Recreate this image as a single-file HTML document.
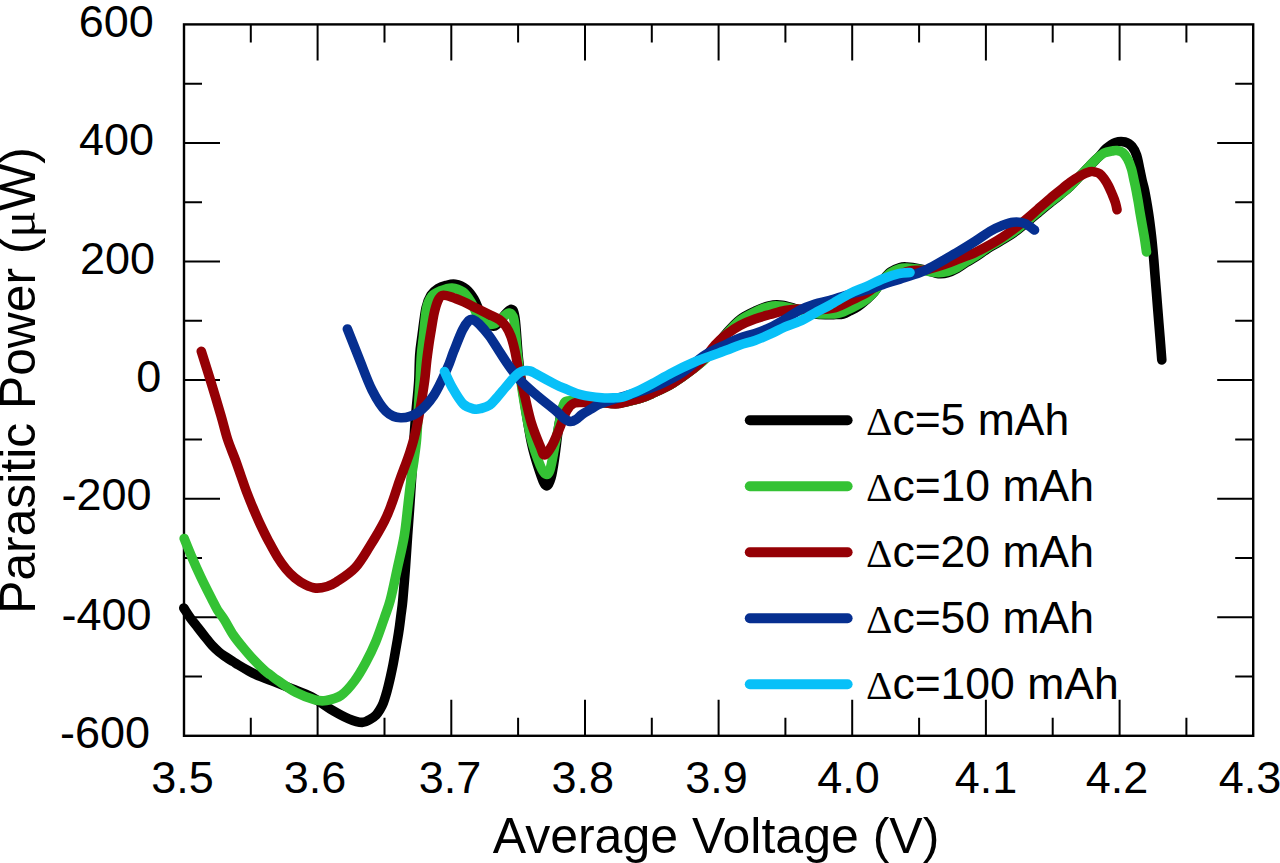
<!DOCTYPE html>
<html><head><meta charset="utf-8"><style>
html,body{margin:0;padding:0;background:#fff;overflow:hidden;}
svg{display:block;}
text{font-family:"Liberation Sans",sans-serif;fill:#000;}
.d{font-family:"Liberation Serif",serif;}
</style></head><body>
<svg width="1280" height="863" viewBox="0 0 1280 863">
<g font-size="45">
<text x="153.8" y="36.6" text-anchor="end">600</text>
<text x="154.1" y="155.3" text-anchor="end">400</text>
<text x="155.1" y="273.6" text-anchor="end">200</text>
<text x="161.3" y="391.8" text-anchor="end">0</text>
<text x="151.6" y="510.4" text-anchor="end">-200</text>
<text x="151.6" y="630.3" text-anchor="end">-400</text>
<text x="150.1" y="747.6" text-anchor="end">-600</text>
<text x="182.5" y="793.0" text-anchor="middle">3.5</text>
<text x="315.0" y="793.0" text-anchor="middle">3.6</text>
<text x="450.0" y="793.0" text-anchor="middle">3.7</text>
<text x="582.8" y="793.0" text-anchor="middle">3.8</text>
<text x="716.6" y="793.0" text-anchor="middle">3.9</text>
<text x="848.6" y="793.0" text-anchor="middle">4.0</text>
<text x="986.0" y="793.0" text-anchor="middle">4.1</text>
<text x="1117.0" y="793.0" text-anchor="middle">4.2</text>
<text x="1250.0" y="793.0" text-anchor="middle">4.3</text>
</g>
<text x="716" y="853" font-size="50" text-anchor="middle">Average Voltage (V)</text>
<text transform="translate(35,380.5) rotate(-90)" x="0" y="0" font-size="49.8" text-anchor="middle">Parasitic Power (<tspan class="d">μ</tspan>W)</text>
<path d="M250.8,735.8V717.8 M250.8,24.4V42.4 M317.6,735.8V699.8 M317.6,24.4V60.4 M384.5,735.8V717.8 M384.5,24.4V42.4 M451.3,735.8V699.8 M451.3,24.4V60.4 M518.1,735.8V717.8 M518.1,24.4V42.4 M585.0,735.8V699.8 M585.0,24.4V60.4 M651.8,735.8V717.8 M651.8,24.4V42.4 M718.6,735.8V699.8 M718.6,24.4V60.4 M785.4,735.8V717.8 M785.4,24.4V42.4 M852.2,735.8V699.8 M852.2,24.4V60.4 M919.1,735.8V717.8 M919.1,24.4V42.4 M985.9,735.8V699.8 M985.9,24.4V60.4 M1052.7,735.8V717.8 M1052.7,24.4V42.4 M1119.6,735.8V699.8 M1119.6,24.4V60.4 M1186.4,735.8V717.8 M1186.4,24.4V42.4 M184.0,676.5H202.0 M1253.2,676.5H1235.2 M184.0,617.2H220.0 M1253.2,617.2H1217.2 M184.0,557.9H202.0 M1253.2,557.9H1235.2 M184.0,498.7H220.0 M1253.2,498.7H1217.2 M184.0,439.4H202.0 M1253.2,439.4H1235.2 M184.0,380.1H220.0 M1253.2,380.1H1217.2 M184.0,320.8H202.0 M1253.2,320.8H1235.2 M184.0,261.5H220.0 M1253.2,261.5H1217.2 M184.0,202.2H202.0 M1253.2,202.2H1235.2 M184.0,143.0H220.0 M1253.2,143.0H1217.2 M184.0,83.7H202.0 M1253.2,83.7H1235.2" stroke="#000" stroke-width="2" fill="none"/>
<rect x="184.0" y="24.4" width="1069.2" height="711.4" fill="none" stroke="#000" stroke-width="2.4"/>
<path d="M183.8,608.0 C184.9,609.6 187.9,614.5 190.2,617.7 C192.5,621.0 195.4,624.4 197.8,627.5 C200.2,630.6 202.4,633.4 204.8,636.4 C207.2,639.4 209.6,642.7 212.0,645.3 C214.4,647.9 216.7,650.0 219.0,652.0 C221.3,654.0 223.7,655.4 226.0,657.0 C228.3,658.6 230.9,660.2 233.0,661.5 C235.1,662.8 236.0,663.5 238.5,665.0 C241.0,666.5 245.1,668.9 248.0,670.5 C250.9,672.1 251.7,672.6 256.0,674.5 C260.3,676.4 267.7,679.2 273.8,681.6 C279.9,684.0 286.2,686.5 292.5,689.0 C298.8,691.5 305.1,693.5 311.3,696.8 C317.6,700.1 323.8,705.1 330.0,708.8 C336.2,712.5 343.4,716.5 348.8,718.8 C354.2,721.1 358.6,722.3 362.2,722.4 C365.8,722.5 368.0,720.4 370.3,719.2 C372.6,718.0 374.4,716.7 376.0,715.1 C377.6,713.5 378.8,711.5 380.0,709.5 C381.2,707.5 382.4,705.3 383.3,703.0 C384.2,700.7 384.9,698.4 385.7,695.7 C386.5,693.0 387.3,690.0 388.1,686.8 C388.9,683.5 389.8,679.9 390.6,676.2 C391.4,672.6 392.2,668.9 393.0,664.9 C393.8,660.9 394.6,656.1 395.3,652.0 C396.0,647.9 396.7,644.0 397.4,640.0 C398.1,636.0 398.7,632.3 399.3,628.0 C399.9,623.7 400.5,618.7 401.1,614.0 C401.7,609.3 402.1,607.8 402.8,600.0 C403.5,592.2 404.7,577.7 405.5,567.0 C406.3,556.3 406.9,545.6 407.6,535.6 C408.3,525.6 409.1,516.3 409.7,507.0 C410.3,497.7 410.9,489.5 411.5,480.0 C412.1,470.5 412.7,460.0 413.3,450.0 C413.9,440.0 414.7,428.2 415.3,420.0 C415.9,411.8 416.4,407.7 417.0,401.0 C417.6,394.3 418.4,387.7 418.8,380.0 C419.2,372.3 419.2,362.3 419.7,355.0 C420.2,347.7 420.9,343.8 422.0,336.0 C423.1,328.2 424.5,314.8 426.0,308.0 C427.5,301.2 429.0,298.2 431.0,295.0 C433.0,291.8 435.5,290.1 438.0,288.5 C440.5,286.9 443.2,286.2 446.0,285.5 C448.8,284.8 451.7,283.6 455.0,284.2 C458.3,284.8 462.8,286.5 466.0,289.0 C469.2,291.5 471.7,295.2 474.0,299.0 C476.3,302.8 477.8,308.1 480.0,312.0 C482.2,315.9 484.5,320.2 487.0,322.5 C489.5,324.8 492.3,326.9 495.0,326.0 C497.7,325.1 500.4,319.8 503.0,317.0 C505.6,314.2 508.9,309.2 510.9,309.4 C512.9,309.6 513.7,309.7 515.0,318.0 C516.3,326.3 517.1,346.2 518.5,359.0 C519.9,371.8 521.3,381.0 523.5,395.0 C525.7,409.0 528.8,430.3 531.5,443.1 C534.2,455.9 537.4,464.9 539.8,472.0 C542.2,479.1 544.1,484.5 546.0,485.5 C547.9,486.5 549.5,483.1 551.0,478.0 C552.5,472.9 553.7,463.8 555.0,455.0 C556.3,446.2 557.5,433.3 559.0,425.0 C560.5,416.7 561.5,409.0 564.0,405.0 C566.5,401.0 570.3,401.6 574.0,401.0 C577.7,400.4 581.4,401.2 586.0,401.5 C590.6,401.8 596.8,402.2 601.7,402.5 C606.6,402.8 611.0,403.7 615.6,403.5 C620.2,403.3 625.4,402.0 629.5,401.1 C633.6,400.2 636.3,399.6 640.0,398.4 C643.7,397.2 646.3,396.3 651.7,393.8 C657.1,391.3 665.7,387.6 672.6,383.4 C679.5,379.2 687.4,373.5 693.4,368.8 C699.4,364.1 702.9,361.1 708.5,355.0 C714.1,348.9 721.8,338.4 727.0,332.5 C732.2,326.6 735.3,323.1 740.0,319.5 C744.7,315.9 750.0,313.5 755.0,311.2 C760.0,308.9 765.5,306.6 770.0,305.6 C774.5,304.6 778.2,304.8 782.2,305.2 C786.2,305.6 790.9,307.4 794.3,308.3 C797.7,309.2 798.9,309.8 802.4,310.7 C805.9,311.6 810.9,313.3 815.0,314.0 C819.1,314.7 823.3,314.7 826.8,314.8 C830.3,314.9 833.3,314.6 836.0,314.5 C838.7,314.4 840.7,314.6 843.0,314.0 C845.3,313.4 847.5,312.1 850.0,310.8 C852.5,309.6 855.4,308.3 858.1,306.5 C860.8,304.7 863.5,302.3 866.2,299.9 C868.9,297.4 871.7,294.9 874.3,291.8 C876.9,288.7 879.3,284.3 882.0,281.0 C884.7,277.7 887.6,274.1 890.6,271.8 C893.6,269.6 897.3,268.3 900.0,267.5 C902.7,266.7 903.6,266.8 906.8,267.0 C909.9,267.2 915.1,267.9 918.9,268.6 C922.6,269.3 926.0,270.2 929.3,271.0 C932.6,271.8 935.4,273.3 938.5,273.6 C941.6,273.9 944.7,273.6 947.8,272.7 C950.9,271.8 954.0,270.2 957.1,268.5 C960.2,266.8 963.2,264.4 966.3,262.5 C969.4,260.6 972.0,259.3 975.6,257.0 C979.2,254.7 983.9,251.1 988.0,248.5 C992.1,245.9 995.2,244.5 1000.0,241.5 C1004.8,238.5 1010.5,235.4 1017.0,230.5 C1023.5,225.6 1033.5,216.6 1039.0,212.0 C1044.5,207.4 1046.5,205.8 1050.0,203.0 C1053.5,200.2 1056.7,197.8 1060.0,195.0 C1063.3,192.2 1066.7,189.7 1070.0,186.5 C1073.3,183.3 1076.7,179.5 1080.0,176.0 C1083.3,172.5 1086.8,168.8 1090.0,165.5 C1093.2,162.2 1096.8,158.8 1099.5,156.0 C1102.2,153.2 1103.6,150.8 1106.3,148.5 C1109.0,146.2 1112.5,143.6 1115.6,142.5 C1118.7,141.4 1122.2,141.3 1124.9,142.0 C1127.6,142.7 1130.1,144.3 1132.0,146.5 C1133.9,148.7 1135.2,151.4 1136.5,155.0 C1137.8,158.6 1138.6,163.8 1139.5,168.0 C1140.4,172.2 1141.2,176.3 1142.0,180.0 C1142.8,183.7 1143.4,184.5 1144.5,190.0 C1145.6,195.5 1147.3,205.3 1148.5,213.0 C1149.7,220.7 1150.6,228.2 1151.5,236.0 C1152.4,243.8 1153.1,251.8 1153.8,260.0 C1154.5,268.2 1155.1,276.7 1155.8,285.0 C1156.5,293.3 1157.1,301.3 1157.8,310.0 C1158.5,318.7 1159.3,328.7 1160.0,337.0 C1160.7,345.3 1161.5,356.2 1161.8,360.0" fill="none" stroke="#000000" stroke-width="9.6" stroke-linecap="round" stroke-linejoin="round"/>
<path d="M184.2,538.5 C185.4,541.5 188.7,549.8 191.5,556.3 C194.3,562.8 197.6,570.2 200.9,577.2 C204.2,584.2 208.5,592.6 211.3,598.1 C214.1,603.6 215.3,606.4 217.5,610.0 C219.7,613.6 221.9,615.8 224.5,620.0 C227.1,624.2 230.3,630.5 233.3,635.0 C236.3,639.5 239.3,643.0 242.6,647.0 C245.9,651.0 249.4,655.2 253.0,659.0 C256.6,662.8 261.1,667.3 264.0,670.0 C266.9,672.7 268.2,673.3 270.5,675.0 C272.8,676.7 273.2,677.4 277.5,680.3 C281.8,683.2 290.0,689.3 296.2,692.6 C302.5,695.9 310.0,698.6 315.0,699.9 C320.0,701.2 321.9,701.3 326.2,700.5 C330.6,699.7 336.5,698.5 341.2,695.2 C346.0,692.0 350.4,686.5 354.5,681.0 C358.6,675.5 362.3,669.0 365.8,662.5 C369.3,656.0 372.6,649.4 375.7,641.9 C378.8,634.4 382.1,624.5 384.5,617.5 C386.9,610.5 388.2,607.9 390.3,600.0 C392.4,592.1 394.7,580.7 397.0,570.0 C399.3,559.3 402.5,546.4 404.3,535.6 C406.1,524.8 406.9,514.3 408.0,505.0 C409.1,495.7 410.0,487.5 411.0,480.0 C412.0,472.5 413.1,466.7 414.0,460.0 C414.9,453.3 415.9,446.7 416.5,440.0 C417.1,433.3 417.4,426.5 417.8,420.0 C418.2,413.5 418.4,407.7 418.8,401.0 C419.2,394.3 419.8,387.7 420.2,380.0 C420.6,372.3 420.8,362.3 421.4,355.0 C421.9,347.7 422.6,343.8 423.5,336.0 C424.4,328.2 425.3,314.7 426.7,308.0 C428.1,301.3 429.8,298.8 432.0,296.0 C434.2,293.2 436.7,292.3 440.0,291.0 C443.3,289.7 448.2,287.8 452.0,288.0 C455.8,288.2 459.8,289.7 463.0,292.0 C466.2,294.3 468.7,298.3 471.0,302.0 C473.3,305.7 474.7,310.5 477.0,314.0 C479.3,317.5 482.2,321.3 485.0,323.0 C487.8,324.7 491.2,324.8 494.0,324.0 C496.8,323.2 499.5,319.8 502.0,318.0 C504.5,316.2 507.0,312.7 509.0,313.0 C511.0,313.3 512.6,313.0 514.0,320.0 C515.4,327.0 516.0,342.5 517.5,355.0 C519.0,367.5 520.8,381.2 523.0,395.0 C525.2,408.8 528.2,426.3 531.0,438.0 C533.8,449.7 537.6,459.0 540.0,465.0 C542.4,471.0 543.7,473.2 545.4,474.0 C547.1,474.8 548.3,475.1 550.0,469.8 C551.7,464.5 553.7,451.3 555.6,442.0 C557.5,432.7 559.6,420.9 561.2,414.2 C562.8,407.5 562.9,404.2 565.0,402.0 C567.1,399.8 570.5,401.1 574.0,401.0 C577.5,400.9 581.4,401.2 586.0,401.5 C590.6,401.8 596.8,402.2 601.7,402.5 C606.6,402.8 611.0,403.7 615.6,403.5 C620.2,403.3 625.4,402.0 629.5,401.1 C633.6,400.2 636.3,399.6 640.0,398.4 C643.7,397.2 646.3,396.3 651.7,393.8 C657.1,391.3 665.7,387.6 672.6,383.4 C679.5,379.2 687.4,373.4 693.4,368.8 C699.4,364.2 702.9,361.9 708.5,356.0 C714.1,350.1 721.8,339.4 727.0,333.5 C732.2,327.6 735.3,324.1 740.0,320.5 C744.7,316.9 750.0,314.4 755.0,312.0 C760.0,309.6 765.5,307.4 770.0,306.4 C774.5,305.4 778.2,305.8 782.2,306.2 C786.2,306.6 790.9,308.2 794.3,309.0 C797.7,309.8 798.9,310.2 802.4,311.0 C805.9,311.8 810.9,313.0 815.0,313.5 C819.1,314.0 823.3,314.0 826.8,314.0 C830.3,314.0 833.3,314.0 836.0,313.7 C838.7,313.4 840.7,312.8 843.0,312.0 C845.3,311.2 847.5,309.9 850.0,308.7 C852.5,307.4 855.4,306.0 858.1,304.5 C860.8,303.0 863.5,301.6 866.2,299.5 C868.9,297.4 871.7,294.8 874.3,291.8 C876.9,288.8 879.3,284.7 882.0,281.5 C884.7,278.3 887.6,275.0 890.6,272.8 C893.6,270.6 897.3,269.3 900.0,268.5 C902.7,267.7 903.6,267.9 906.8,268.0 C909.9,268.1 915.1,268.7 918.9,269.3 C922.6,269.9 926.0,270.9 929.3,271.5 C932.6,272.1 935.4,272.8 938.5,272.8 C941.6,272.8 944.7,272.4 947.8,271.5 C950.9,270.6 954.0,269.2 957.1,267.5 C960.2,265.8 963.2,263.4 966.3,261.5 C969.4,259.6 972.0,258.3 975.6,256.0 C979.2,253.7 983.9,250.1 988.0,247.5 C992.1,244.9 995.2,243.5 1000.0,240.5 C1004.8,237.5 1010.5,234.4 1017.0,229.5 C1023.5,224.6 1033.5,215.6 1039.0,211.0 C1044.5,206.4 1046.5,204.9 1050.0,202.2 C1053.5,199.4 1056.7,197.1 1060.0,194.5 C1063.3,191.9 1066.7,189.7 1070.0,186.6 C1073.3,183.5 1076.7,179.5 1080.0,176.0 C1083.3,172.5 1087.2,168.4 1090.0,165.5 C1092.8,162.6 1094.7,160.6 1097.0,158.5 C1099.3,156.4 1101.6,154.2 1104.1,153.0 C1106.6,151.8 1109.8,151.4 1112.0,151.0 C1114.2,150.6 1115.2,150.2 1117.0,150.5 C1118.8,150.8 1121.2,151.3 1123.0,152.8 C1124.8,154.3 1126.3,156.7 1127.7,159.3 C1129.1,161.9 1130.3,165.1 1131.4,168.6 C1132.5,172.1 1133.3,177.0 1134.1,180.6 C1134.9,184.2 1135.4,186.4 1136.1,190.0 C1136.8,193.6 1137.6,198.1 1138.3,202.0 C1139.0,205.9 1139.1,207.5 1140.1,213.2 C1141.1,218.9 1143.1,229.9 1144.2,236.4 C1145.3,242.9 1146.1,249.4 1146.5,252.0" fill="none" stroke="#34c234" stroke-width="9.6" stroke-linecap="round" stroke-linejoin="round"/>
<path d="M201.3,351.3 C202.8,356.1 207.0,369.3 210.3,380.0 C213.6,390.7 218.0,405.4 220.9,415.3 C223.8,425.2 225.2,431.9 227.6,439.4 C230.0,446.8 233.2,453.9 235.4,460.0 C237.6,466.1 239.1,470.6 241.0,476.0 C242.9,481.4 244.7,486.9 246.8,492.4 C248.9,497.9 251.2,503.6 253.5,509.0 C255.8,514.4 258.0,519.6 260.5,524.9 C263.0,530.2 265.6,535.6 268.5,541.0 C271.4,546.4 274.7,552.6 277.6,557.3 C280.5,562.0 283.1,565.5 286.0,569.0 C288.9,572.5 291.8,575.4 295.0,578.0 C298.2,580.6 301.6,582.8 305.0,584.5 C308.4,586.2 312.0,587.8 315.7,588.1 C319.4,588.4 323.6,587.5 327.0,586.5 C330.4,585.5 331.7,585.1 336.4,582.0 C341.1,578.9 349.6,573.8 355.2,567.8 C360.8,561.8 365.1,553.8 370.0,546.0 C374.9,538.2 380.8,528.2 384.5,521.0 C388.2,513.8 389.5,509.7 392.0,503.0 C394.5,496.3 397.2,487.2 399.4,481.0 C401.6,474.8 403.2,470.8 405.0,466.0 C406.8,461.2 408.5,456.7 410.0,452.0 C411.5,447.3 412.8,443.2 414.1,438.0 C415.4,432.8 416.8,427.2 418.0,421.0 C419.2,414.8 420.4,407.8 421.5,401.0 C422.6,394.2 423.8,386.8 424.7,380.0 C425.6,373.2 426.1,365.8 426.8,360.0 C427.5,354.2 428.1,350.0 428.8,345.0 C429.5,340.0 430.3,335.3 431.2,330.0 C432.1,324.7 433.1,317.8 434.2,313.0 C435.3,308.2 436.5,303.9 437.8,301.0 C439.1,298.1 439.9,296.2 442.1,295.5 C444.3,294.8 447.4,295.7 451.0,296.8 C454.6,297.9 459.6,300.0 463.8,301.9 C468.1,303.8 472.2,306.2 476.5,308.3 C480.8,310.4 485.5,312.7 489.3,314.6 C493.1,316.5 496.8,317.8 499.5,319.7 C502.2,321.6 503.9,323.3 505.8,326.1 C507.7,328.9 509.4,332.3 510.9,336.3 C512.4,340.3 513.6,345.2 514.8,350.3 C516.0,355.4 516.4,359.6 518.0,367.0 C519.6,374.4 522.2,385.6 524.5,395.0 C526.8,404.4 528.9,415.1 531.5,423.5 C534.1,431.9 537.7,440.4 539.9,445.7 C542.1,450.9 542.5,455.0 544.5,455.0 C546.5,455.0 549.4,450.0 551.9,445.7 C554.4,441.4 556.8,434.9 559.3,429.0 C561.8,423.1 564.3,414.8 566.8,410.5 C569.3,406.2 571.0,404.4 574.2,403.1 C577.4,401.8 581.4,402.6 586.0,402.5 C590.6,402.4 596.8,402.3 601.7,402.5 C606.6,402.7 611.0,404.1 615.6,403.9 C620.2,403.7 625.4,402.0 629.5,401.1 C633.6,400.2 636.3,399.6 640.0,398.4 C643.7,397.2 646.3,396.3 651.7,393.8 C657.1,391.3 665.7,387.6 672.6,383.4 C679.5,379.2 688.2,372.8 693.4,368.8 C698.6,364.8 700.2,363.4 703.8,359.4 C707.4,355.4 711.1,349.2 715.0,345.0 C718.9,340.8 722.8,337.2 727.0,334.0 C731.2,330.8 735.3,328.0 740.0,325.5 C744.7,323.0 750.0,320.8 755.0,319.0 C760.0,317.2 765.0,315.9 770.0,314.5 C775.0,313.1 780.2,311.4 785.0,310.5 C789.8,309.6 793.1,309.1 798.5,309.0 C803.9,308.9 810.9,309.9 817.1,309.7 C823.3,309.4 830.1,308.9 835.6,307.5 C841.1,306.1 844.9,303.4 850.0,301.0 C855.1,298.6 862.2,295.2 866.2,293.0 C870.2,290.8 870.1,290.2 874.3,287.7 C878.5,285.2 885.3,281.0 891.2,278.2 C897.1,275.4 904.1,272.2 909.7,270.8 C915.3,269.4 919.1,271.1 925.0,270.0 C930.9,268.9 939.2,266.1 945.0,264.2 C950.8,262.3 955.0,260.3 960.0,258.4 C965.0,256.5 970.0,254.9 975.0,252.6 C980.0,250.3 985.5,247.3 990.0,244.8 C994.5,242.3 998.0,240.1 1002.0,237.5 C1006.0,234.9 1010.0,232.0 1014.0,229.0 C1018.0,226.0 1022.0,222.8 1026.0,219.5 C1030.0,216.2 1034.0,212.5 1038.0,209.0 C1042.0,205.5 1046.3,201.7 1050.0,198.6 C1053.7,195.5 1056.7,193.2 1060.0,190.5 C1063.3,187.8 1066.7,184.9 1070.0,182.5 C1073.3,180.1 1076.6,177.8 1080.0,176.0 C1083.4,174.2 1087.7,172.4 1090.2,171.7 C1092.7,171.0 1093.5,171.7 1095.0,172.0 C1096.5,172.3 1098.0,172.5 1099.5,173.6 C1101.0,174.7 1102.5,176.4 1104.0,178.5 C1105.5,180.6 1107.1,183.2 1108.5,186.0 C1109.9,188.8 1111.3,192.2 1112.5,195.0 C1113.7,197.8 1114.8,200.6 1115.5,203.0 C1116.2,205.4 1116.8,208.6 1117.0,209.7" fill="none" stroke="#950005" stroke-width="9.6" stroke-linecap="round" stroke-linejoin="round"/>
<path d="M347.4,329.0 C349.4,334.0 355.2,348.8 359.3,359.0 C363.4,369.2 367.6,381.3 372.0,390.0 C376.4,398.7 381.1,406.6 385.9,411.2 C390.7,415.8 395.3,417.6 400.6,417.8 C405.9,418.0 412.3,416.3 417.9,412.5 C423.4,408.7 429.0,402.5 433.9,395.2 C438.8,387.9 443.9,375.9 447.2,368.6 C450.5,361.3 451.1,358.0 453.6,351.6 C456.2,345.2 459.9,335.2 462.5,330.0 C465.1,324.8 467.2,322.2 468.9,320.5 C470.6,318.8 471.0,318.9 472.7,319.5 C474.4,320.1 476.3,321.2 479.1,324.0 C481.9,326.8 485.9,331.4 489.3,336.0 C492.7,340.6 496.1,346.5 499.5,351.6 C502.9,356.8 506.0,361.8 509.7,366.9 C513.4,371.9 517.2,377.1 521.8,381.9 C526.4,386.7 531.5,390.8 537.1,395.6 C542.7,400.4 551.2,406.8 555.6,410.5 C560.0,414.2 561.0,416.2 563.5,418.0 C566.0,419.8 568.3,421.2 570.4,421.5 C572.5,421.8 574.1,420.7 576.0,419.5 C577.9,418.3 579.5,416.3 582.0,414.5 C584.5,412.7 588.6,410.5 591.3,408.9 C594.0,407.3 595.1,406.1 598.2,404.7 C601.3,403.3 605.5,401.9 610.0,400.5 C614.5,399.1 619.2,397.8 625.0,396.0 C630.8,394.2 638.8,392.1 645.0,390.0 C651.2,387.9 655.8,386.4 662.1,383.4 C668.4,380.4 675.9,376.7 683.0,372.0 C690.1,367.3 697.7,359.7 705.0,355.0 C712.3,350.3 721.2,346.8 727.0,344.0 C732.8,341.2 735.3,339.8 740.0,338.0 C744.7,336.2 750.0,335.2 755.0,333.5 C760.0,331.8 765.0,329.9 770.0,327.5 C775.0,325.1 780.0,322.2 785.0,319.3 C790.0,316.4 795.0,312.6 800.0,310.0 C805.0,307.4 810.0,305.6 815.0,304.0 C820.0,302.4 824.2,302.1 830.0,300.4 C835.8,298.7 843.3,295.9 850.0,294.0 C856.7,292.1 864.2,290.9 870.0,289.2 C875.8,287.5 880.0,285.3 885.0,283.6 C890.0,281.9 894.2,281.0 900.0,279.1 C905.8,277.2 915.0,274.3 920.0,272.4 C925.0,270.5 925.8,270.0 930.0,267.8 C934.2,265.6 940.0,262.2 945.0,259.3 C950.0,256.4 955.0,253.7 960.0,250.7 C965.0,247.7 970.0,244.6 975.0,241.4 C980.0,238.2 985.6,233.9 990.0,231.3 C994.4,228.7 997.7,227.2 1001.6,225.7 C1005.5,224.2 1009.3,222.6 1013.2,222.2 C1017.1,221.8 1021.2,222.1 1024.8,223.4 C1028.3,224.7 1032.9,228.9 1034.5,230.0" fill="none" stroke="#062f90" stroke-width="9.6" stroke-linecap="round" stroke-linejoin="round"/>
<path d="M444.5,371.5 C445.8,374.2 449.4,382.6 452.5,388.0 C455.6,393.4 459.6,400.5 463.2,404.0 C466.8,407.5 470.8,408.2 473.8,409.0 C476.8,409.8 478.3,409.2 481.0,408.5 C483.7,407.8 487.1,406.8 489.8,405.0 C492.5,403.2 494.3,400.5 497.0,397.5 C499.7,394.5 503.0,390.3 505.8,387.0 C508.6,383.7 511.7,379.9 514.0,377.5 C516.3,375.1 517.8,373.6 519.5,372.5 C521.2,371.4 522.4,371.1 524.1,370.8 C525.9,370.6 527.8,370.4 530.0,371.0 C532.2,371.6 532.8,372.2 537.1,374.5 C541.4,376.8 550.8,382.1 555.6,384.5 C560.4,386.9 561.8,387.3 566.0,389.0 C570.2,390.7 574.8,393.2 580.8,394.7 C586.8,396.2 595.9,397.3 601.7,397.8 C607.5,398.3 612.1,397.9 615.6,397.8 C619.1,397.7 620.2,397.8 622.5,397.2 C624.8,396.6 626.6,395.7 629.5,394.5 C632.4,393.3 636.3,391.8 640.0,390.0 C643.7,388.2 646.3,386.9 651.7,384.0 C657.1,381.1 665.7,376.1 672.6,372.5 C679.5,368.9 687.2,365.2 693.4,362.5 C699.6,359.8 704.4,358.3 710.0,356.2 C715.6,354.1 722.0,351.9 727.0,350.0 C732.0,348.1 735.3,346.6 740.0,345.0 C744.7,343.4 750.0,342.3 755.0,340.5 C760.0,338.7 765.0,336.5 770.0,334.2 C775.0,331.9 780.0,329.1 785.0,326.9 C790.0,324.7 795.0,323.5 800.0,321.2 C805.0,318.9 810.0,315.7 815.0,313.0 C820.0,310.3 824.2,308.2 830.0,305.0 C835.8,301.8 844.0,296.6 850.0,293.5 C856.0,290.4 860.8,289.0 866.2,286.6 C871.6,284.2 877.0,281.2 882.4,279.0 C887.8,276.8 894.1,274.7 898.7,273.6 C903.3,272.5 908.1,272.7 910.0,272.5" fill="none" stroke="#08c0f8" stroke-width="9.6" stroke-linecap="round" stroke-linejoin="round"/>
<path d="M749.8,420.3H847.6" stroke="#000000" stroke-width="10" stroke-linecap="round"/>
<text x="866" y="435.1" font-size="44.5"><tspan class="d" font-size="41">Δ</tspan>c=5 mAh</text>
<path d="M749.8,486.3H847.6" stroke="#34c234" stroke-width="10" stroke-linecap="round"/>
<text x="866" y="501.1" font-size="44.5"><tspan class="d" font-size="41">Δ</tspan>c=10 mAh</text>
<path d="M749.8,552.3H847.6" stroke="#950005" stroke-width="10" stroke-linecap="round"/>
<text x="866" y="567.1" font-size="44.5"><tspan class="d" font-size="41">Δ</tspan>c=20 mAh</text>
<path d="M749.8,618.3H847.6" stroke="#062f90" stroke-width="10" stroke-linecap="round"/>
<text x="866" y="633.1" font-size="44.5"><tspan class="d" font-size="41">Δ</tspan>c=50 mAh</text>
<path d="M749.8,684.3H847.6" stroke="#08c0f8" stroke-width="10" stroke-linecap="round"/>
<text x="866" y="699.1" font-size="44.5"><tspan class="d" font-size="41">Δ</tspan>c=100 mAh</text>
</svg>
</body></html>
